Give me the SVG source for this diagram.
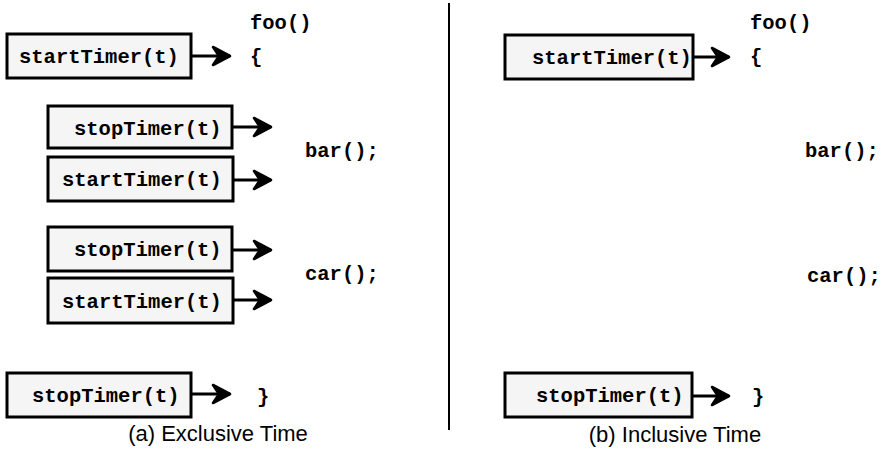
<svg xmlns="http://www.w3.org/2000/svg" width="892" height="457" viewBox="0 0 892 457">
<style>
.code{font-family:"Liberation Mono","Courier New",monospace;font-weight:bold;font-size:20.5px;fill:#000}
.box{fill:#f5f5f5;stroke:#000;stroke-width:3}
.cap{font-family:"Liberation Sans",Arial,Helvetica,sans-serif;font-size:22px;fill:#000;text-anchor:middle}
.conn{stroke:#000;stroke-width:3.2;fill:none}
</style>
<defs>
<marker id="ah" markerUnits="userSpaceOnUse" viewBox="-22 -12 24 24" refX="0" refY="0" markerWidth="24" markerHeight="24" orient="auto">
<path d="M0,0 L-17,-9 L-11,0 L-17,9 Z" fill="#000" stroke="#000" stroke-width="2.6" stroke-linejoin="round"/>
</marker>
</defs>
<rect width="892" height="457" fill="#fff"/>
<line x1="449" y1="3" x2="449" y2="430" stroke="#000" stroke-width="2"/>

<g id="code-left">
<text class="code" x="250" y="29">foo()</text>
<text class="code" x="250" y="63">{</text>
<text class="code" x="305" y="157">bar();</text>
<text class="code" x="305" y="280">car();</text>
<text class="code" x="257" y="403">}</text>
</g>
<g id="code-right">
<text class="code" x="750" y="29">foo()</text>
<text class="code" x="750" y="63">{</text>
<text class="code" x="805" y="157">bar();</text>
<text class="code" x="807" y="282">car();</text>
<text class="code" x="752" y="403">}</text>
</g>

<g id="a-start1"><rect class="box" x="7" y="34" width="184" height="44"/><text class="code" x="19" y="63">startTimer(t)</text></g>
<g id="a-stop1"><rect class="box" x="48" y="106" width="184" height="42"/><text class="code" x="74" y="135">stopTimer(t)</text></g>
<g id="a-start2"><rect class="box" x="48" y="157" width="185" height="44"/><text class="code" x="62" y="186">startTimer(t)</text></g>
<g id="a-stop2"><rect class="box" x="48" y="227" width="184" height="44"/><text class="code" x="74" y="256">stopTimer(t)</text></g>
<g id="a-start3"><rect class="box" x="48" y="278" width="185" height="45"/><text class="code" x="62" y="308">startTimer(t)</text></g>
<g id="a-stop3"><rect class="box" x="7" y="373" width="184" height="44"/><text class="code" x="32" y="402">stopTimer(t)</text></g>

<g id="b-start1"><rect class="box" x="505" y="35" width="188" height="44"/><text class="code" x="532" y="64">startTimer(t)</text></g>
<g id="b-stop1"><rect class="box" x="505" y="373" width="187" height="44"/><text class="code" x="536" y="402">stopTimer(t)</text></g>

<g id="connectors">
<line class="conn" x1="191" y1="56" x2="230" y2="56" marker-end="url(#ah)"/>
<line class="conn" x1="232" y1="127" x2="271" y2="127" marker-end="url(#ah)"/>
<line class="conn" x1="233" y1="180" x2="271" y2="180" marker-end="url(#ah)"/>
<line class="conn" x1="232" y1="250" x2="271" y2="250" marker-end="url(#ah)"/>
<line class="conn" x1="233" y1="300" x2="271" y2="300" marker-end="url(#ah)"/>
<line class="conn" x1="191" y1="394" x2="230" y2="394" marker-end="url(#ah)"/>
<line class="conn" x1="693" y1="57" x2="729" y2="57" marker-end="url(#ah)"/>
<line class="conn" x1="692" y1="396" x2="729" y2="396" marker-end="url(#ah)"/>
</g>

<text class="cap" x="218" y="441">(a) Exclusive Time</text>
<text class="cap" x="675" y="442">(b) Inclusive Time</text>
</svg>
